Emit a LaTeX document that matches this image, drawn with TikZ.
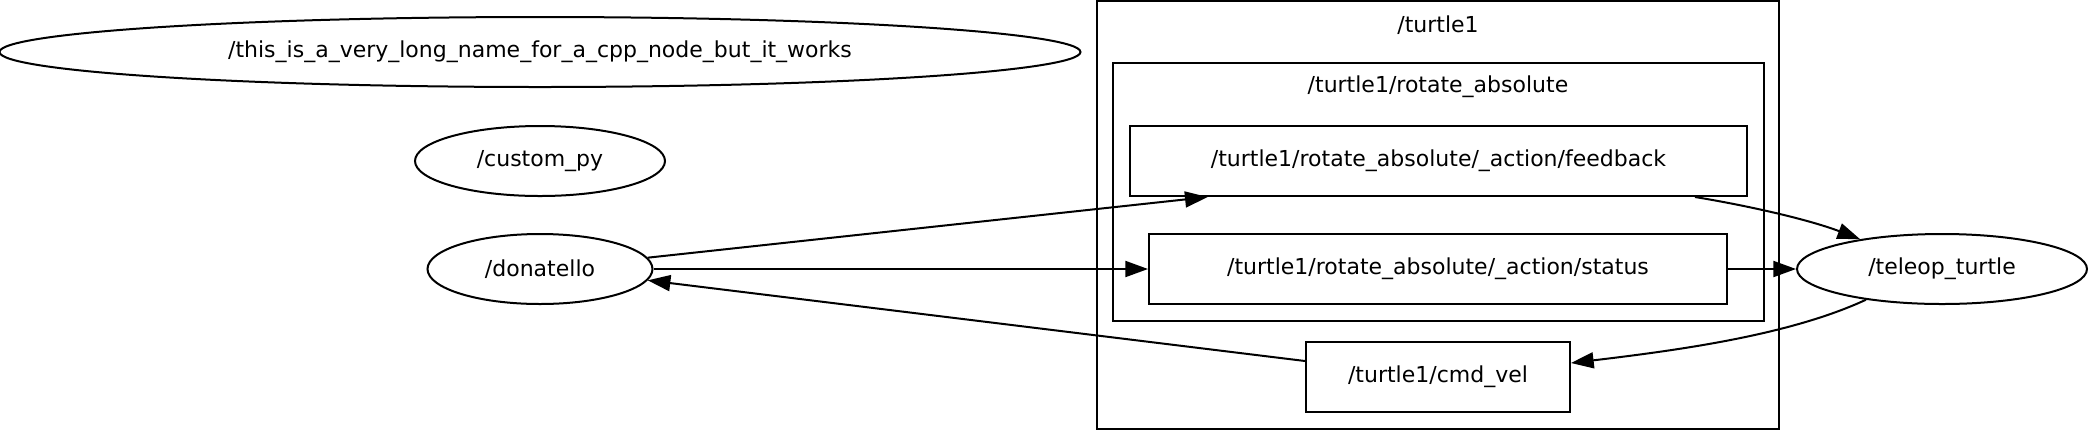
\documentclass[tikz,border=0pt]{standalone}
\usepackage{fontspec}
\setmainfont{DejaVu Sans}
\usetikzlibrary{arrows.meta,shapes.geometric}

\begin{document}
\begin{tikzpicture}[x=0.75pt,y=-0.75pt,line width=1.5pt,font=\fontsize{16.5}{20}\selectfont,
	rosnode/.style={draw,ellipse,inner sep=0pt,minimum height=52.5pt},
	topic/.style={draw,rectangle,inner sep=0pt,minimum height=52.5pt},
	flow/.style={-{Triangle[length=17pt,width=12pt]}}]

\useasboundingbox (0,0) rectangle (2089,430);

% Gruppen
\draw (1097,1) rectangle (1779,429);
\node (t1) at (1438,25) {/turtle1};
\draw (1113,63) rectangle (1764,321);
\node (rot) at (1438,87) {/turtle1/rotate\_absolute};

% Knoten
\node[rosnode,minimum width=810.75pt] (longname) at (540,52) {/this\_is\_a\_very\_long\_name\_for\_a\_cpp\_node\_but\_it\_works};
\node[rosnode,minimum width=187.5pt] (custom) at (540,161) {/custom\_py};
\node[rosnode,minimum width=168.75pt] (don) at (540,269) {/donatello};
\node[rosnode,minimum width=217.5pt] (teleop) at (1942,269) {/teleop\_turtle};

% Topics
\node[topic,minimum width=462.75pt] (fb) at (1438.5,161) {/turtle1/rotate\_absolute/\_action/feedback};
\node[topic,minimum width=433.5pt] (status) at (1438,269) {/turtle1/rotate\_absolute/\_action/status};
\node[topic,minimum width=198pt] (cv) at (1438,377) {/turtle1/cmd\_vel};

% Kanten
\draw[flow] (don.6) -- ([xshift=59pt]fb.south west);
\draw[flow] (don.east) -- (status.west);
\draw[flow] ([yshift=12pt]cv.west) -- (don.-6);
\draw[flow] ([xshift=-39.75pt]fb.south east) .. controls (1750,206) and (1810,220) .. (teleop.160);
\draw[flow] (status.east) -- (teleop.west);
\draw[flow] (teleop.202) .. controls (1790,335) and (1680,350) .. ([yshift=10.5pt]cv.east);

\end{tikzpicture}
\end{document}
